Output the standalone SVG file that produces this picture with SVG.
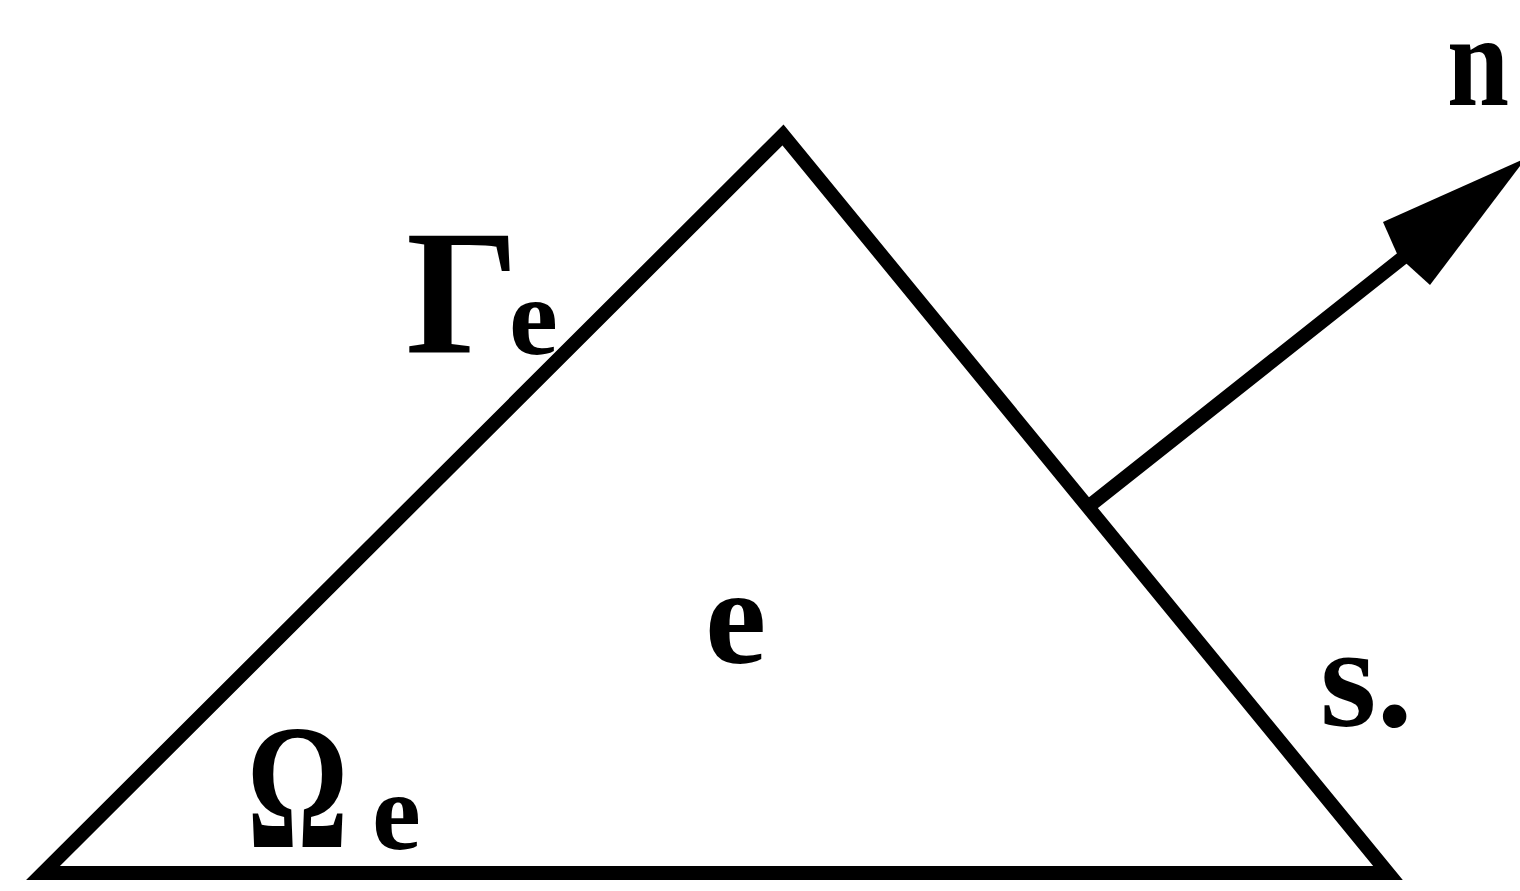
<svg xmlns="http://www.w3.org/2000/svg" width="1520" height="891" viewBox="0 0 1520 891">
<style>
.ln{fill:none;stroke:#000;stroke-width:14;stroke-linejoin:miter;stroke-linecap:round}
.t{font-family:"Liberation Serif","Times New Roman",serif;font-weight:bold;fill:#000}
</style>
<rect width="1520" height="891" fill="#fff"/>
<g id="element">
<polygon class="ln" points="783,135 43,873 1388,873"/>
</g>
<g id="connectors">
<line class="ln" x1="1093" y1="503" x2="1410" y2="252"/>
<polygon points="1526,158 1383,222 1398,256 1430,285" fill="#000"/>
</g>
<g id="labels">
<text class="t" x="1447" y="105" font-size="132" textLength="62" lengthAdjust="spacingAndGlyphs">n</text>
<text class="t" x="406" y="353" font-size="178">Γ</text>
<text class="t" x="509" y="354" font-size="110">e</text>
<text class="t" x="705" y="663" font-size="138">e</text>
<text class="t" x="1320" y="726" font-size="145">s.</text>
<text class="t" x="247" y="847" font-size="178" textLength="101" lengthAdjust="spacingAndGlyphs">Ω</text>
<text class="t" x="372" y="849" font-size="110">e</text>
</g>
</svg>
